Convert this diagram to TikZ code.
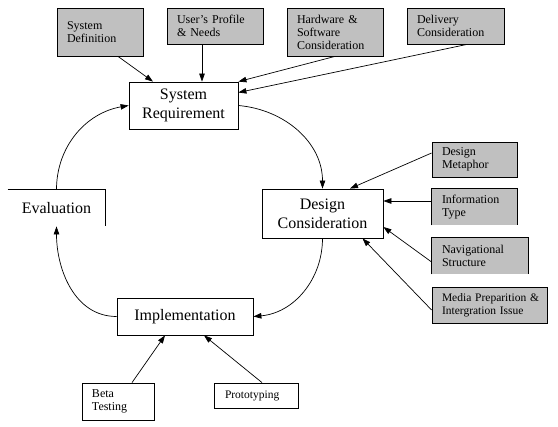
\documentclass[tikz,border=0pt]{standalone}
\usepackage{fontspec}
\setmainfont{Liberation Serif}
\usetikzlibrary{arrows.meta}
\definecolor{gc}{RGB}{192,192,192}
\tikzset{mbox/.style={draw,align=center,inner sep=0pt,font=\fontsize{16}{19}\selectfont},
 gbox/.style={draw,fill=gc,align=left,inner xsep=10pt,inner ysep=0pt,font=\fontsize{12}{13}\selectfont},
 wbox/.style={gbox,fill=white},
 arr/.style={-{Triangle[length=8pt,width=5.5pt]},line width=.7pt}}
\begin{document}
\begin{tikzpicture}[x=1pt,y=-1pt,line width=.8pt]
\fill[white] (0,0) rectangle (558,427);
\node[mbox,minimum width=109pt,minimum height=47pt] (req) at (183.5,105.5) {System\\Requirement};
\node[mbox,minimum width=121pt,minimum height=49pt] (des) at (322.5,213.5) {Design\\Consideration};
\node[mbox,minimum width=136pt,minimum height=37pt] (imp) at (185,316.5) {Implementation};
\node[mbox,draw=none,minimum width=97pt,minimum height=36pt] (eval) at (56.5,208) {Evaluation};
\draw (eval.north west)--(eval.north east)--(eval.south east);
\node[gbox,text width=66pt,minimum height=48pt] (sdef) at (100,32) {System\\Definition};
\node[gbox,text width=76pt,minimum height=36pt] (prof) at (215,26) {User's Profile\\\& Needs};
\node[gbox,text width=76pt,minimum height=48pt] (hw) at (335,32) {Hardware \&\\Software\\Consideration};
\node[gbox,text width=77pt,minimum height=36pt] (dlv) at (455.5,26) {Delivery\\Consideration};
\node[gbox,text width=65pt,minimum height=35pt] (meta) at (474.5,159.5) {Design\\Metaphor};
\node[gbox,draw=none,text width=65pt,minimum height=36pt] (info) at (474.5,207) {Information\\Type};
\draw (info.south west)--(info.north west)--(info.north east)--(info.south east);
\node[gbox,draw=none,text width=76pt,minimum height=36pt] (nav) at (480,256) {Navigational\\Structure};
\draw (nav.south west)--(nav.north west)--(nav.north east)--(nav.south east);
\node[gbox,text width=95pt,minimum height=36pt,font=\fontsize{11.5}{13}\selectfont] (med) at (489.5,305) {\mbox{Media Preparition \&}\\Intergration Issue};
\node[wbox,text width=52pt,minimum height=37pt] (beta) at (118,401.5) {Beta\\Testing};
\node[wbox,text width=62pt,minimum height=25pt,inner xsep=11pt,font=\fontsize{11.5}{13}\selectfont] (proto) at (256,395.5) {Prototyping};
\draw[arr] (req.east) to[out=-5,in=90] (des.north);
\draw[arr] (des.south) to[out=-90,in=5] (imp.east);
\draw[arr] (imp.west) to[out=180,in=-90] (eval.south);
\draw[arr] (eval.north) to[out=90,in=190] (req.west);
\draw[arr] ([xshift=18pt]sdef.south)--([xshift=-30.5pt]req.north);
\draw[arr] ([xshift=-13pt]prof.south)--([xshift=18.5pt]req.north);
\draw[arr] (hw.south)--(req.north east);
\draw[arr] ([xshift=11.5pt]dlv.south)--([yshift=13pt]req.east);
\draw[arr] ([yshift=6.5pt]meta.west)--([xshift=27.5pt]des.north);
\draw[arr] ([yshift=6pt]info.west)--([yshift=6pt]info.west -| des.east);
\draw[arr] ([yshift=-6pt]nav.west)--([yshift=-13.5pt]des.east);
\draw[arr] ([yshift=-5pt]med.west)--([xshift=40pt]des.south);
\draw[arr] ([xshift=14pt]beta.north)--([xshift=-20pt]imp.south);
\draw[arr] ([xshift=6pt]proto.north)--([xshift=19pt]imp.south);
\end{tikzpicture}
\end{document}
